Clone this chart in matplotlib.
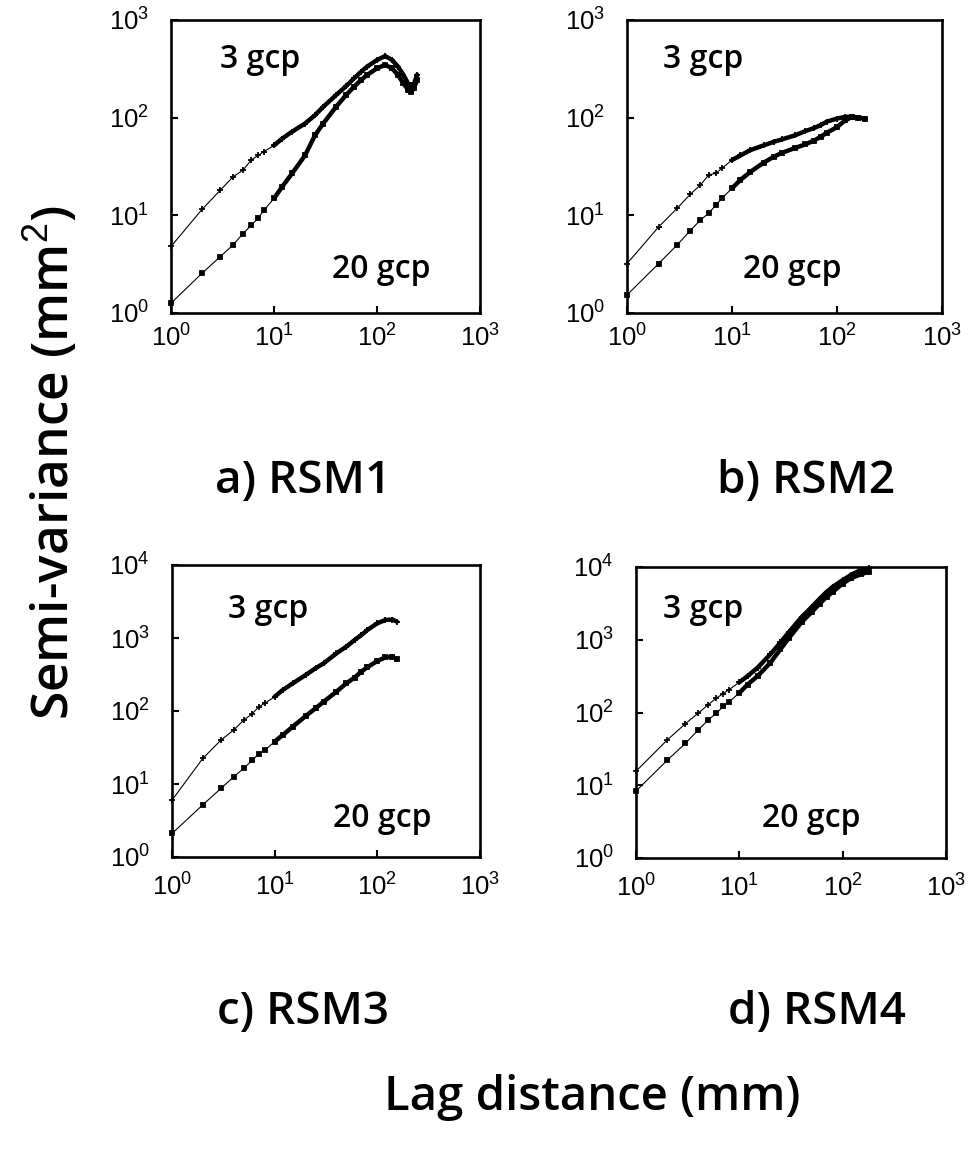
import matplotlib
matplotlib.use("Agg")
import matplotlib.pyplot as plt
from matplotlib.ticker import FixedLocator, NullLocator, FixedFormatter

plt.rcParams["mathtext.fontset"] = "custom"
plt.rcParams["mathtext.rm"] = "Liberation Sans"
plt.rcParams["mathtext.it"] = "Liberation Sans"
plt.rcParams["mathtext.bf"] = "Liberation Sans:bold"
plt.rcParams["font.family"] = ["Liberation Sans", "DejaVu Sans"]

# Lag distances (mm) at which the semi-variances were sampled
lag_a = [1, 2, 3, 4, 5, 6, 7, 8, 10, 12, 15, 20, 25, 30, 40, 50, 60, 70, 80,
         100, 120, 140, 160, 180, 200, 215, 230, 245]
lag_b = [1, 2, 3, 4, 5, 6, 7, 8, 10, 12, 15, 20, 25, 30, 40, 50, 60, 70, 80,
         100, 120, 140, 160, 185]
lag_c = [1, 2, 3, 4, 5, 6, 7, 8, 10, 12, 15, 20, 25, 30, 40, 50, 60, 70, 80,
         100, 120, 140, 155]
lag_d = [1, 2, 3, 4, 5, 6, 7, 8, 10, 12, 15, 20, 25, 30, 40, 50, 60, 70, 80,
         100, 120, 150, 180]

# Semi-variance (mm^2), 3 ground control points
sv3_a = [4.8, 11.5, 18, 24.8, 29, 36.8, 41, 45, 52, 61, 72, 87, 106, 129, 170,
         210, 253, 295, 333, 389, 428, 390, 333, 275, 225, 205, 225, 275]
sv3_b = [3.2, 7.6, 11.8, 16.4, 20.4, 25.9, 26.9, 30.3, 36.8, 41, 46.6, 52,
         56.6, 60, 66, 73, 78, 84, 91, 98, 102, 102, 100, 98]
sv3_c = [6.0, 22.5, 40, 55, 75, 91, 114, 127, 157, 194, 239, 311, 385, 450,
         617, 763, 938, 1100, 1290, 1590, 1770, 1790, 1675]
sv3_d = [15.6, 41.7, 70, 98, 128, 158, 182, 207, 261, 316, 413, 632, 918,
         1260, 2040, 2800, 3670, 4550, 5330, 6600, 7770, 9100, 9800]

# Semi-variance (mm^2), 20 ground control points
sv20_a = [1.26, 2.55, 3.77, 4.97, 6.5, 7.9, 9.3, 11.3, 14.9, 19.6, 26.9, 41,
          66, 87, 129, 170, 208, 243, 273, 320, 347, 320, 273, 225, 194, 182,
          203, 243]
sv20_b = [1.53, 3.2, 4.97, 6.96, 8.95, 10.5, 12.7, 14.9, 18.9, 23, 27.9, 34.6,
          39.8, 43.7, 49, 53.3, 58, 63.8, 70, 80, 94, 102, 100, 98]
sv20_c = [2.1, 5.2, 8.7, 12.6, 16.4, 21, 25.8, 29, 38, 47, 61, 85, 109, 134,
          184, 240, 286, 347, 398, 484, 543, 555, 512]
sv20_d = [8.3, 22, 37.5, 57.5, 79, 98, 121, 141, 186, 242, 316, 484, 741,
          1045, 1740, 2390, 3130, 3880, 4540, 5930, 6970, 7940, 8610]

titles = ["a) RSM1", "b) RSM2", "c) RSM3", "d) RSM4"]
y_top_exp = [3, 3, 4, 4]

panels = [
    (lag_a, sv3_a, sv20_a),
    (lag_b, sv3_b, sv20_b),
    (lag_c, sv3_c, sv20_c),
    (lag_d, sv3_d, sv20_d),
]

W, H = 971, 1149
fig = plt.figure(figsize=(W / 100, H / 100), dpi=100)

# axes boxes in pixels: left, top, right, bottom
boxes = [(171, 20, 480, 313), (627, 20, 942, 313),
         (172, 565, 480, 857), (636, 567, 946, 858)]
# label anchors (axes fraction, baseline): "3 gcp" and "20 gcp"
lab3 = [(0.159, 0.836), (0.114, 0.836), (0.182, 0.818), (0.087, 0.825)]
lab20 = [(0.521, 0.119), (0.368, 0.119), (0.523, 0.103), (0.406, 0.107)]
title_pos = [(303, 493), (806, 493), (303, 1024), (817, 1024)]
xpad = [8, 8, 12, 12]

label_font = ["Open Sans", "DejaVu Sans"]

for i, (lags, s3, s20) in enumerate(panels):
    l, t, r, b = boxes[i]
    ax = fig.add_axes([l / W, 1 - b / H, (r - l) / W, (b - t) / H])
    ax.set_xscale("log")
    ax.set_yscale("log")
    ax.set_xlim(1, 1000)
    ax.set_ylim(1, 10 ** y_top_exp[i])

    for s, mk, ms in ((s3, "+", 4.5), (s20, "s", 3.2)):
        ax.plot(lags, s, color="black", lw=0.8, marker=mk, ms=ms, mew=1.3,
                solid_joinstyle="round", clip_on=False, zorder=3)
        dense_x = [x for x in lags if x >= 10]
        dense_y = [y for x, y in zip(lags, s) if x >= 10]
        ax.plot(dense_x, dense_y, color="black", lw=3.2,
                solid_capstyle="round", solid_joinstyle="round", zorder=3)

    xt = [1, 10, 100, 1000]
    yt = [10 ** k for k in range(y_top_exp[i] + 1)]
    ax.xaxis.set_major_locator(FixedLocator(xt))
    ax.yaxis.set_major_locator(FixedLocator(yt))
    ax.xaxis.set_minor_locator(NullLocator())
    ax.yaxis.set_minor_locator(NullLocator())
    ax.xaxis.set_major_formatter(FixedFormatter([r"$10^{%d}$" % k for k in range(4)]))
    ax.yaxis.set_major_formatter(FixedFormatter([r"$10^{%d}$" % k for k in range(y_top_exp[i] + 1)]))
    ax.tick_params(axis="both", which="major", direction="in", length=5,
                   width=1.5, labelsize=18.5, top=False, right=False)
    ax.tick_params(axis="x", pad=xpad[i])
    ax.tick_params(axis="y", pad=16)
    for sp in ax.spines.values():
        sp.set_linewidth(1.9)

    ax.text(lab3[i][0], lab3[i][1], "3 gcp", transform=ax.transAxes,
            fontsize=23, family=label_font, fontweight="semibold",
            ha="left", va="baseline")
    ax.text(lab20[i][0], lab20[i][1], "20 gcp", transform=ax.transAxes,
            fontsize=23, family=label_font, fontweight="semibold",
            ha="left", va="baseline")

    tx, ty = title_pos[i]
    fig.text(tx / W, 1 - ty / H, titles[i], fontsize=33, family=label_font,
             fontweight="semibold", ha="center", va="baseline")

fig.text(592 / W, 1 - 1110 / H, "Lag distance (mm)", fontsize=34,
         family=label_font, fontweight="semibold", ha="center", va="baseline")
fig.text(52 / W, 1 - 462 / H, "Semi-variance (mm$^{2}$)", fontsize=37,
         family=label_font, fontweight="semibold", rotation=90,
         ha="center", va="center")

fig.savefig("out.png", dpi=100, facecolor="white")
